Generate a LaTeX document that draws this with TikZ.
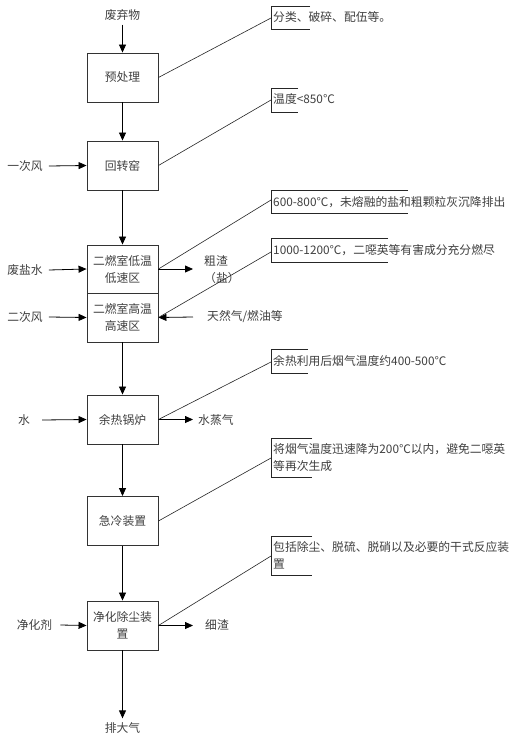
\documentclass[tikz,border=0pt]{standalone}
\usepackage{fontspec}
\setmainfont{Noto Sans CJK SC}
\usetikzlibrary{arrows.meta}
\begin{document}
\begin{tikzpicture}[x=1pt,y=-1pt,
  font=\fontsize{11.8}{17}\selectfont,
  box/.style={draw=black!80, line width=0.9pt, minimum width=71pt, minimum height=49pt, inner sep=0pt, text=black!75, align=center},
  lbl/.style={text=black!75, inner sep=0pt, align=left},
  arr/.style={draw=black, line width=0.8pt, -{Triangle[length=8pt,width=7pt]}},
  ln/.style={draw=black!85, line width=0.6pt}]
\useasboundingbox (0,0) rectangle (518,741);
\fill[white] (0,0) rectangle (518,741);

% main boxes
\node[box] (b1) at (122.5,77.5) {预处理};
\node[box] (b2) at (122.5,165.5) {回转窑};
\node[box, minimum height=48pt] (b3a) at (122.5,269) {二燃室低温\\低速区};
\node[box, minimum height=49pt] (b3b) at (122.5,317.5) {二燃室高温\\高速区};
\node[box] (b4) at (122.5,419.5) {余热锅炉};
\node[box] (b5) at (122.5,521) {急冷装置};
\node[box] (b6) at (122.5,625.5) {净化除尘装\\置};

% top / bottom labels
\node[lbl] (t0) at (122.5,15) {废弃物};
\node[lbl] (pd) at (122.5,728) {排大气};

% main flow
\draw[arr] ([yshift=-4pt]t0.south) -- (b1.north);
\draw[arr] (b1.south) -- (b2.north);
\draw[arr] (b2.south) -- (b3a.north);
\draw[arr] (b3b.south) -- (b4.north);
\draw[arr] (b4.south) -- (b5.north);
\draw[arr] (b5.south) -- (b6.north);
\draw[arr] (b6.south) -- ([yshift=4pt]pd.north);

% left inputs
\node[lbl] (l1) at (25,166) {一次风};
\node[lbl] (l2) at (25,270) {废盐水};
\node[lbl] (l3) at (25,317) {二次风};
\node[lbl] (l4) at (24,420) {水};
\node[lbl] (l5) at (34.5,625) {净化剂};
\draw[arr] ([xshift=6pt]l1.east) -- (b2.west);
\draw[arr] ([xshift=6pt]l2.east) -- (b3a.west);
\draw[arr] ([xshift=6pt]l3.east) -- (b3b.west);
\draw[arr] ([xshift=12pt]l4.east) -- (b4.west);
\draw[arr] ([xshift=8pt]l5.east) -- (b6.west);

% right outputs
\node[lbl, anchor=west] (r1) at (204,270) {粗渣\\（盐）};
\node[lbl, anchor=west] (r2) at (207,317) {天然气/燃油等};
\node[lbl, anchor=west] (r3) at (198,420) {水蒸气};
\node[lbl, anchor=west] (r4) at (205,625) {细渣};
\draw[arr] (b3a.east) -- ([xshift=-11pt]r1.west |- b3a.east);
\draw[arr] ([xshift=-14pt]r2.west) -- (b3b.east);
\draw[arr] (b4.east) -- ([xshift=-5pt]r3.west |- b4.east);
\draw[arr] (b6.east) -- ([xshift=-12pt]r4.west |- b6.east);

% callouts
\node[lbl, anchor=west] (c1) at (273,17) {分类、破碎、配伍等。};
\node[lbl, anchor=west] (c2) at (273,99) {温度<850℃};
\node[lbl, anchor=west] (c3) at (273,202) {600-800℃，未熔融的盐和粗颗粒灰沉降排出};
\node[lbl, anchor=west] (c4) at (273,250) {1000-1200℃，二噁英等有害成分充分燃尽};
\node[lbl, anchor=west] (c5) at (273,361) {余热利用后烟气温度约400-500℃};
\node[lbl, anchor=west] (c6) at (273,458) {将烟气温度迅速降为200℃以内，避免二噁英\\等再次生成};
\node[lbl, anchor=west] (c7) at (273,555) {包括除尘、脱硫、脱硝以及必要的干式反应装\\置};

\draw[ln] (310,6) -- (271,6) -- (271,29) -- (310,29);
\draw[ln] (298,88) -- (271,88) -- (271,112) -- (298,112);
\draw[ln] (408,190) -- (271,190) -- (271,213) -- (408,213);
\draw[ln] (388,238) -- (271,238) -- (271,262) -- (388,262);
\draw[ln] (308,349) -- (271,349) -- (271,373) -- (308,373);
\draw[ln] (312,438) -- (271,438) -- (271,477) -- (312,477);
\draw[ln] (312,536) -- (271,536) -- (271,575) -- (312,575);

\coordinate (k1) at (271,18);
\coordinate (k2) at (271,100);
\coordinate (k3) at (271,200);
\coordinate (k4) at (271,252);
\coordinate (k5) at (271,362);
\coordinate (k6) at (271,458);
\coordinate (k7) at (271,556);

\draw[ln] (b1.east) -- (k1);
\draw[ln] (b2.east) -- (k2);
\draw[ln] (b3a.east) -- (k3);
\draw[ln] (k4) -- (b3b.east);
\draw[ln] (b4.east) -- (k5);
\draw[ln] (b5.east) -- (k6);
\draw[ln] (b6.east) -- (k7);
\end{tikzpicture}
\end{document}
